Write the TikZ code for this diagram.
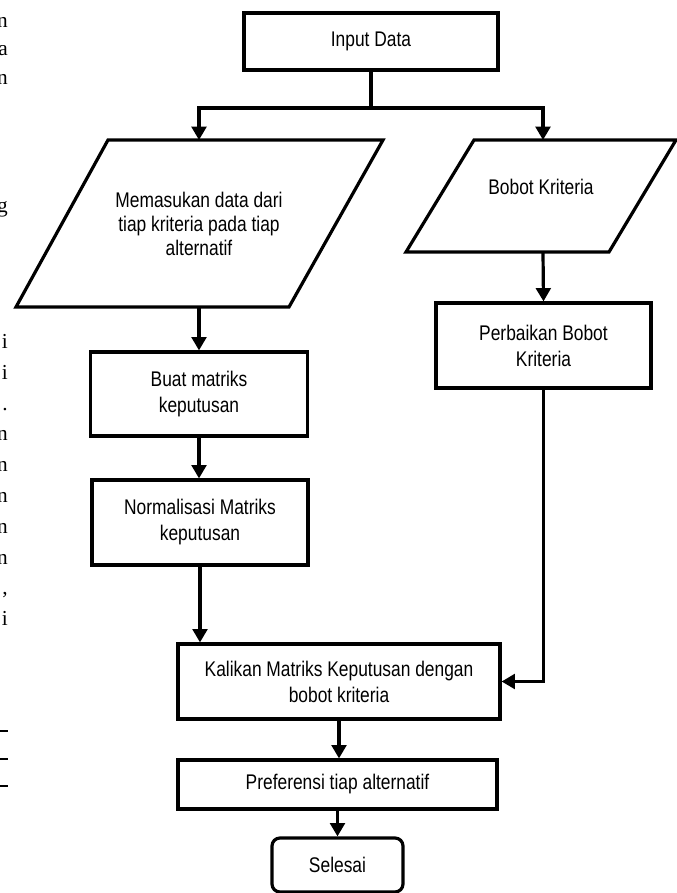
\documentclass[tikz,border=0pt]{standalone}
\usepackage{fontspec}
\setmainfont{Liberation Sans}[FakeStretch=0.82]
\newfontfamily\serifkiri{Liberation Serif}
\usetikzlibrary{arrows.meta}

\tikzset{
  kotak/.style={draw, line width=2.4pt, align=center, inner sep=0pt, font=\fontsize{15.9}{19.5}\selectfont},
  teks/.style={align=center, inner sep=0pt, font=\fontsize{15.9}{18}\selectfont},
  garis/.style={line width=2.4pt},
  panah/.style={line width=2.4pt, -{Triangle[length=10pt,width=11pt]}},
  huruf/.style={anchor=base east, inner sep=0pt, font=\serifkiri\fontsize{16}{18}\selectfont}
}

\begin{document}
\begin{tikzpicture}[x=0.75pt,y=-0.75pt]
  \useasboundingbox (0,0) rectangle (677,893);

  %% sisa teks halaman di kiri
  \foreach \t/\y [count=\i] in {n/27,a/55,n/84,g/212,i/348,i/379,./410,n/440,n/471,n/502,n/533,n/564,{,}/594,i/625}
    \node[huruf] (h\i) at (8,\y) {\t};
  \foreach \y in {731,759,786}
    \draw [line width=1.1pt] (0,\y) -- (8,\y);

  %% mulai
  \node[kotak, minimum width=190.5pt, minimum height=42.75pt] (input) at (371,41.5) {Input Data};
  \coordinate (cabang) at (371,108);

  %% data alternatif
  \draw [garis] (108,140) -- (383,140) -- (289,307) -- (16,307) -- cycle;
  \node[teks] (masuk) at (199,224) {Memasukan data dari\\tiap kriteria pada tiap\\alternatif};
  \coordinate (masukAtas) at (199,140);
  \coordinate (masukBawah) at (199,307);

  %% bobot
  \draw [garis] (474,140) -- (676,140) -- (609,252) -- (406,252) -- cycle;
  \node[teks] (bobot) at (541,187) {Bobot Kriteria};
  \coordinate (bobotAtas) at (543,140);
  \coordinate (bobotBawah) at (543,252);

  \node[kotak, minimum width=161.25pt, minimum height=63.75pt] (perbaikan) at (543.5,345.5) {Perbaikan Bobot\\Kriteria};
  \node[kotak, minimum width=162.75pt, minimum height=63pt] (buat) at (199,394) {Buat matriks\\keputusan};
  \node[kotak, minimum width=162pt, minimum height=63.75pt] (norm) at (200,522.5) {Normalisasi Matriks\\keputusan};
  \node[kotak, minimum width=241.5pt, minimum height=56.25pt] (kalikan) at (339,681.5) {Kalikan Matriks Keputusan dengan\\bobot kriteria};
  \node[kotak, minimum width=239.25pt, minimum height=36.75pt] (pref) at (337.5,784.5) {Preferensi tiap alternatif};
  \node[kotak, rounded corners=6pt, minimum width=98.25pt, minimum height=40.5pt] (selesai) at (337.5,865) {Selesai};

  %% panah
  \draw [garis] (input.south) -- (cabang);
  \draw [panah] (cabang) -| (masukAtas);
  \draw [panah] (cabang) -| (bobotAtas);
  \draw [panah] (masukBawah) -- (buat.north);
  \draw [panah] (buat.south) -- (buat.south |- norm.north);
  \draw [panah] (bobotBawah) -- (perbaikan.north);
  \draw [panah] (norm.south) -- (norm.south |- kalikan.north);
  \draw [panah] (perbaikan.south) |- (kalikan.east);
  \draw [panah] (kalikan.south) -- (kalikan.south |- pref.north);
  \draw [panah] (pref.south) -- (selesai.north);
\end{tikzpicture}
\end{document}
